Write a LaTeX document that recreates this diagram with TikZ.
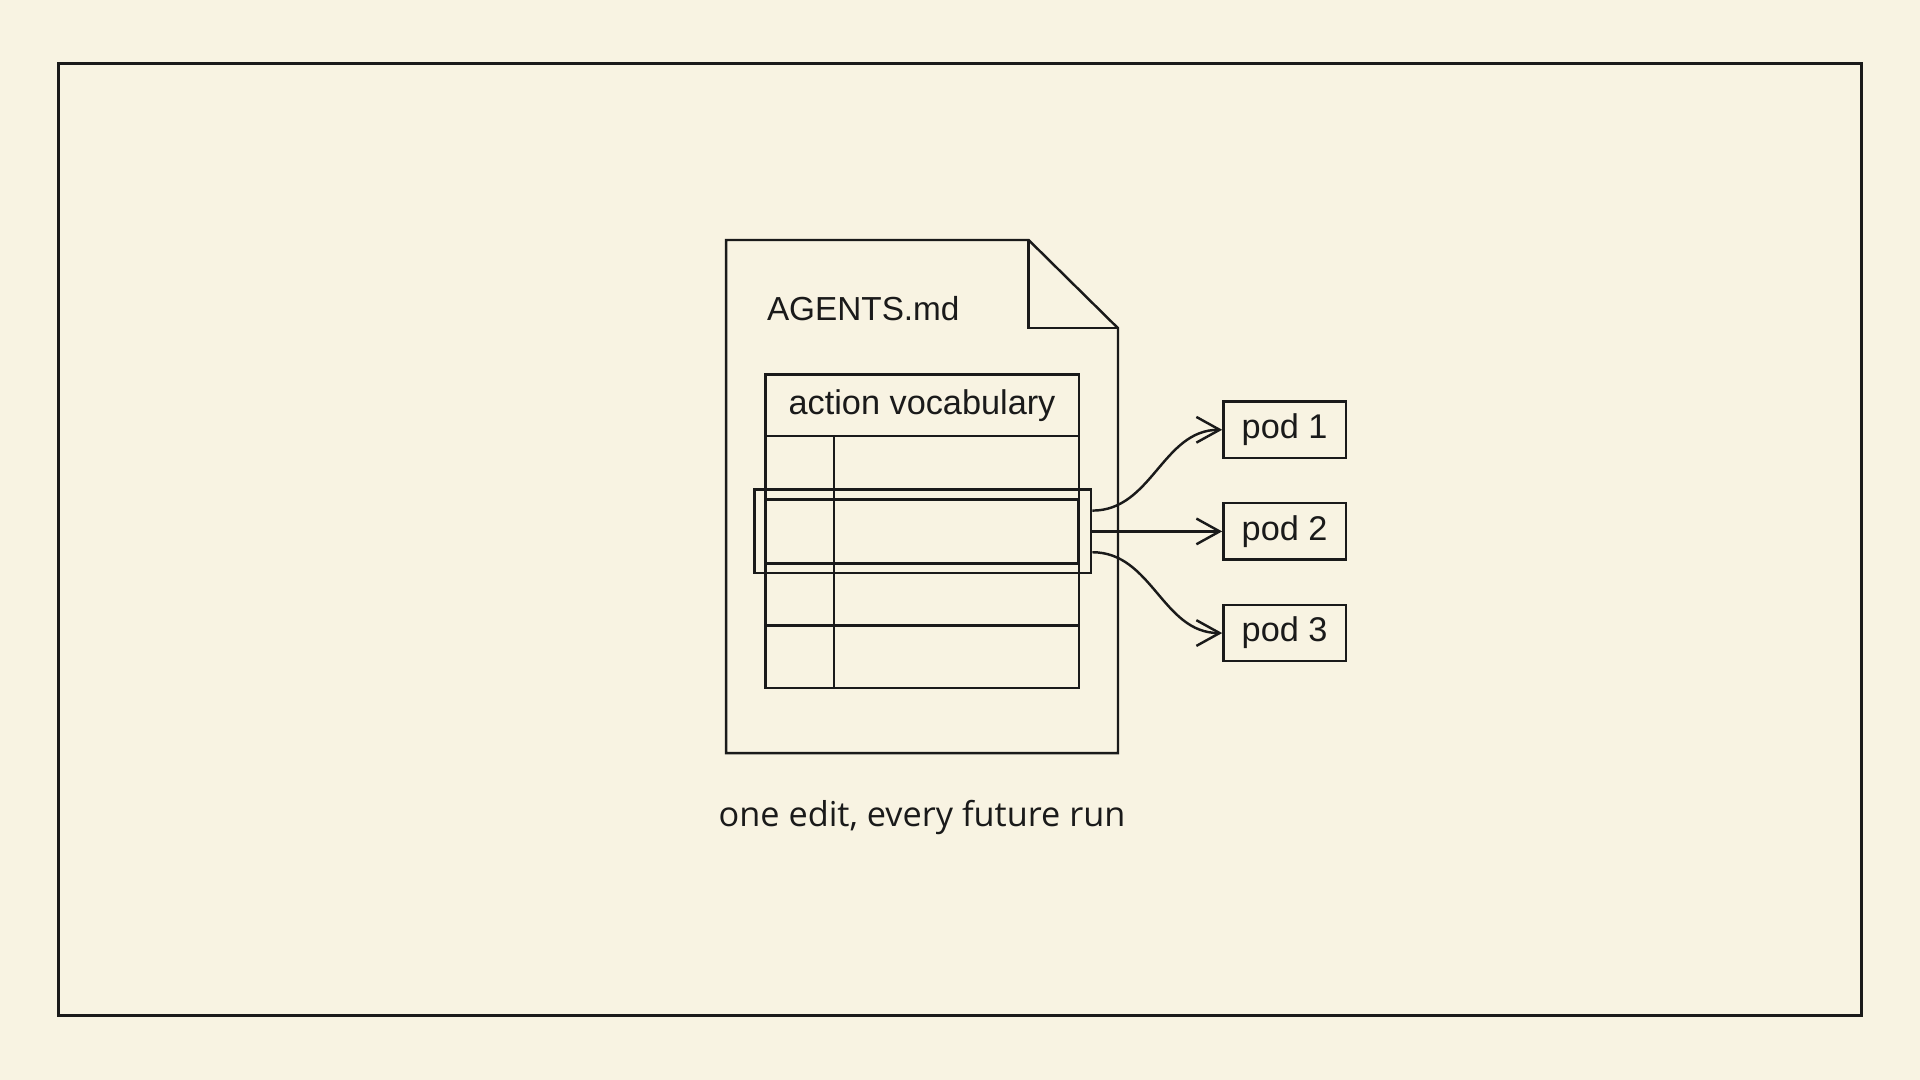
\documentclass[tikz,border=0pt]{standalone}
\usepackage{fontspec}
\setmainfont{Liberation Sans}
\newfontfamily\capfont{Open Sans}
\usetikzlibrary{arrows.meta,positioning}
\definecolor{paper}{HTML}{F8F3E2}
\definecolor{ink}{HTML}{1A1A1A}
\tikzset{
    pod/.style={draw=ink, line width=1pt, minimum width=50pt, minimum height=23pt, inner sep=0pt},
    cell/.style={draw=ink, line width=1pt},
    hilite/.style={draw=ink, line width=1.1pt, minimum width=137.5pt, minimum height=34pt, inner sep=0pt}
}

\begin{document}
\begin{tikzpicture}
  [
    x                       = 0.5pt,
    y                       = 0.5pt,
    >                       = {Straight Barb[length=9.5pt,width=10.5pt]},
    every node/.style       = {font=\fontsize{14}{16}\selectfont, text=ink},
  ]
  % page and frame
  \fill[paper] (0,0) rectangle (1568,882);
  \useasboundingbox (0,0) rectangle (1568,882);
  \draw[ink, line width=1.3pt] (48,830) rectangle (1520,53);

  % the file
  \draw[cell] (593,686) -- (840,686) -- (913,614) -- (913,267) -- (593,267) -- cycle;
  \draw[cell] (840,686) -- (840,614) -- (913,614);
  \node [anchor=base west, inner sep=0pt, font=\fontsize{13.6}{16}\selectfont] (fname) at (626,620) {AGENTS.md};

  % table
  \node [cell, minimum width=128pt, minimum height=25pt, inner sep=0pt] (hdr) at (753,551) {action vocabulary};
  \draw[cell] (625,526) rectangle (881,320);
  \draw[cell] (681,526) -- (681,320);
  \foreach \y in {474,422,371}
    \draw[cell] (625,\y) -- (881,\y);
  \draw[ink, line width=1.1pt] (625,474) rectangle (881,422);
  \node [hilite] (hl) at (753.5,448) {};

  % pods
  \node [pod, right=53pt of hl] (p2) {pod 2};
  \node [pod, above=17.5pt of p2] (p1) {pod 1};
  \node [pod, below=17.5pt of p2] (p3) {pod 3};

  \coordinate (o1) at ([yshift=8.5pt]hl.east);
  \coordinate (o3) at ([yshift=-8.5pt]hl.east);
  \draw[ink, line width=1pt, ->] (o1) to[out=0, in=180] (p1.west);
  \draw[ink, line width=1pt, ->] (hl.east) -- (p2.west);
  \draw[ink, line width=1pt, ->] (o3) to[out=0, in=180] (p3.west);

  \node [font=\capfont\fontsize{14}{16}\selectfont] (cap) at (753,214) {one edit, every future run};
\end{tikzpicture}
\end{document}
